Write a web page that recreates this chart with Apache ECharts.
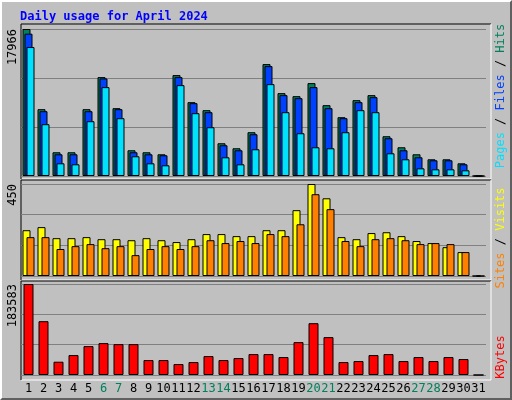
<!DOCTYPE html>
<html>
<head>
<meta charset="utf-8">
<script src="https://cdn.jsdelivr.net/npm/echarts@6/dist/echarts.min.js"></script>
<style>
html,body{margin:0;padding:0;background:#c0c0c0;}
#chart{width:512px;height:400px;box-sizing:border-box;border:2px solid;border-color:#fff #606060 #606060 #fff;}
</style>
</head>
<body>
<div id="chart"></div>
<script>
// data
var days = [];
for (var d = 1; d <= 31; d++) days.push(String(d));
var weekend = ['6','7','13','14','20','21','27','28'];

var hits  = [17966,8166,2899,2899,8166,12086,8289,3144,2899,2654,12331,9024,8044,4001,3389,5349,13678,10126,9758,11351,8656,7186,9268,9881,4859,3511,2654,2042,2042,1552,0];
var files = [17394,7921,2654,2654,7921,11922,8166,2899,2654,2531,12086,8901,7799,3756,3144,5104,13433,9881,9513,10861,8289,7064,9024,9636,4614,3144,2286,1919,1919,1429,0];
var pages = [15760,6329,1552,1429,6696,10861,7064,2409,1552,1307,11106,7676,5961,2286,1429,3266,11228,7799,5226,3511,3389,5349,8044,7799,2776,2042,939,817,817,694,0];
var visits = [224,239,185,185,190,180,180,175,185,175,166,180,205,205,195,195,224,224,322,450,380,190,180,210,214,195,171,161,141,117,0];
var sites  = [190,190,132,146,156,136,146,102,132,146,132,146,175,161,171,161,205,195,253,400,327,171,146,180,185,175,156,161,156,117,0];
var kbytes = [183583,108540,26800,40200,58290,64320,62310,62310,30150,30150,22110,26130,38190,30150,34170,42210,42210,36180,66330,104520,76380,26130,28140,40200,42210,28140,36180,28140,36180,32160,0];

var maxHits = 17966, maxVisits = 450, maxKb = 183583;

var myChart = echarts.init(document.getElementById('chart'));
var font = 'DejaVu Sans Mono, monospace';

function xAx(idx, show) {
	return {
		type: 'category', gridIndex: idx, data: days,
		axisLine: {show: false}, axisTick: {show: false},
		axisLabel: {
			show: show, interval: 0, fontFamily: font, fontSize: 12, margin: 8,
			color: function (v) { return weekend.indexOf(v) >= 0 ? '#00805c' : '#000'; }
		}
	};
}
function yAx(idx, max) {
	return {
		type: 'value', gridIndex: idx, min: 0, max: max, interval: max / 3,
		axisLabel: {show: false}, axisLine: {show: false}, axisTick: {show: false},
		splitLine: {lineStyle: {color: '#808080', width: 1}}
	};
}
function bar(name, data, color, w, gap, idx) {
	return {
		name: name, type: 'bar', data: data, xAxisIndex: idx, yAxisIndex: idx,
		barWidth: w, barGap: gap, animation: false,
		itemStyle: {color: color, borderColor: '#000', borderWidth: 1}
	};
}

// panel frames (black top/left, white bottom/right)
function frame(y1, y2) {
	return [
		{type: 'line', shape: {x1: 19, y1: y1, x2: 489, y2: y1}, style: {stroke: '#000', lineWidth: 1}},
		{type: 'line', shape: {x1: 19, y1: y2, x2: 489, y2: y2}, style: {stroke: '#fff', lineWidth: 1}},
		{type: 'line', shape: {x1: 19, y1: y1, x2: 19, y2: y2}, style: {stroke: '#000', lineWidth: 1}},
		{type: 'line', shape: {x1: 489, y1: y1, x2: 489, y2: y2}, style: {stroke: '#fff', lineWidth: 1}}
	];
}
function vlabel(x, y, text, align, rich) {
	return {
		type: 'text', x: x, y: y, rotation: Math.PI / 2, z: 10,
		style: {text: text, fontFamily: font, fontSize: 12, fill: '#000', align: align, verticalAlign: 'middle', rich: rich}
	};
}

var option = {
	backgroundColor: '#c0c0c0',
	animation: false,
	grid: [
		{left: 19, width: 465, top: 27, height: 147},
		{left: 19, width: 465, top: 182, height: 92},
		{left: 19, width: 465, top: 282, height: 91}
	],
	xAxis: [xAx(0, false), xAx(1, false), xAx(2, true)],
	yAxis: [yAx(0, maxHits), yAx(1, maxVisits), yAx(2, maxKb)],
	series: [
		bar('Hits', hits, '#00805c', 8, '-75%', 0),
		bar('Files', files, '#0040ff', 8, '-75%', 0),
		bar('Pages', pages, '#00e0ff', 8, '-75%', 0),
		bar('Visits', visits, '#ffff00', 8, '-50%', 1),
		bar('Sites', sites, '#ff8000', 8, '-50%', 1),
		bar('KBytes', kbytes, '#ff0000', 10, '0%', 2)
	],
	graphic: [].concat(
		[{type: 'text', x: 18, y: 9, style: {text: 'Daily usage for April 2024', fontFamily: font, fontSize: 12, fontWeight: 'bold', fill: '#0000ff'}}],
		frame(22, 177), frame(178, 278), frame(279, 378),
		[
			vlabel(11, 27, '17966', 'right'),
			vlabel(11, 182, '450', 'right'),
			vlabel(11, 282, '183583', 'right'),
			vlabel(499, 94, '{p|Pages} / {f|Files} / {h|Hits}', 'center',
				{p: {fill: '#00e0ff', fontFamily: font, fontSize: 12}, f: {fill: '#0040ff', fontFamily: font, fontSize: 12}, h: {fill: '#00805c', fontFamily: font, fontSize: 12}}),
			vlabel(499, 236, '{s|Sites} / {v|Visits}', 'center',
				{s: {fill: '#ff8000', fontFamily: font, fontSize: 12}, v: {fill: '#ffff00', fontFamily: font, fontSize: 12}}),
			vlabel(499, 355, '{k|KBytes}', 'center',
				{k: {fill: '#ff0000', fontFamily: font, fontSize: 12}})
		]
	)
};
myChart.setOption(option);
</script>
</body>
</html>
